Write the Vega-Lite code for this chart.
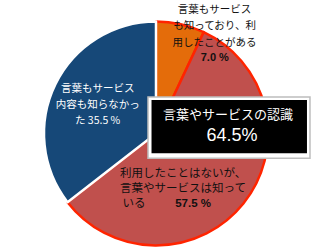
{
  "$schema": "https://vega.github.io/schema/vega-lite/v6.json",
  "width": 318,
  "height": 252,
  "autosize": {"type": "fit", "contains": "padding"},
  "padding": {"left": 0, "top": 12, "right": 6, "bottom": 0},
  "background": "white",
  "config": {"view": {"stroke": null}, "font": "Noto Sans CJK JP"},
  "datasets": {
    "slices": [
      {"cat": "利用したことがある", "order": 1, "value": 7.0, "label": "言葉もサービス\nも知っており、利\n用したことがある", "label3": "", "pct": "7.0 %"},
      {"cat": "知っている", "order": 2, "value": 57.5, "label": "利用したことはないが、\n言葉やサービスは知って", "label3": "いる", "pct": "57.5 %"},
      {"cat": "知らなかった", "order": 3, "value": 35.5, "label": "言葉もサービス\n内容も知らなかっ\nた 35.5 %", "label3": "", "pct": ""}
    ],
    "box": [
      {"role": "outer", "x1": -0.0714, "x2": 1.375, "y1": 0.33, "y2": -0.2232},
      {"role": "inner", "x1": -0.04, "x2": 1.348, "y1": 0.3036, "y2": -0.1786}
    ],
    "boxText": [
      {"role": "title", "text": "言葉やサービスの認識", "x": 0.643, "y": 0.17},
      {"role": "value", "text": "64.5%", "x": 0.679, "y": -0.027}
    ]
  },
  "layer": [
    {
      "data": {"name": "slices"},
      "mark": {"type": "arc", "radius": 112, "strokeJoin": "round"},
      "encoding": {
        "theta": {"field": "value", "type": "quantitative", "stack": true},
        "order": {"field": "order", "type": "quantitative"},
        "color": {"field": "cat", "type": "nominal", "legend": null,
          "scale": {"domain": ["利用したことがある", "知っている", "知らなかった"], "range": ["#E46C0A", "#C0504D", "#164878"]}},
        "stroke": {"condition": {"test": "datum.order === 3", "value": "#ffffff"}, "value": "#FF2400"},
        "strokeWidth": {"condition": {"test": "datum.order === 3", "value": 2.5}, "value": 2.5}
      }
    },
    {
      "data": {"name": "slices"},
      "mark": {"type": "text", "radius": 108, "dx": 35, "dy": -18.5, "fontSize": 10.5, "lineHeight": 16.5, "lineBreak": "\n", "fill": "#111111", "align": "center", "baseline": "middle"},
      "encoding": {
        "theta": {"field": "value", "type": "quantitative", "stack": true},
        "order": {"field": "order", "type": "quantitative"},
        "detail": {"field": "cat", "type": "nominal"},
        "text": {"condition": {"test": "datum.order === 1", "field": "label"}, "value": ""}
      }
    },
    {
      "data": {"name": "slices"},
      "mark": {"type": "text", "radius": 77, "dx": 42, "dy": 0, "fontSize": 11, "fontWeight": "bold", "font": "Liberation Sans", "fill": "#111111", "align": "center", "baseline": "middle"},
      "encoding": {
        "theta": {"field": "value", "type": "quantitative", "stack": true},
        "order": {"field": "order", "type": "quantitative"},
        "detail": {"field": "cat", "type": "nominal"},
        "text": {"condition": {"test": "datum.order === 1", "field": "pct"}, "value": ""}
      }
    },
    {
      "data": {"name": "slices"},
      "mark": {"type": "text", "radius": 65, "dy": -16, "fontSize": 10.5, "lineHeight": 16, "lineBreak": "\n", "fill": "#ffffff", "align": "center", "baseline": "middle"},
      "encoding": {
        "theta": {"field": "value", "type": "quantitative", "stack": true},
        "order": {"field": "order", "type": "quantitative"},
        "detail": {"field": "cat", "type": "nominal"},
        "text": {"condition": {"test": "datum.order === 3", "field": "label"}, "value": ""}
      }
    },
    {
      "data": {"name": "slices"},
      "mark": {"type": "text", "radius": 77, "dx": -33, "dy": -7.5, "fontSize": 11.5, "lineHeight": 14.5, "lineBreak": "\n", "fill": "#111111", "align": "center", "baseline": "middle"},
      "encoding": {
        "theta": {"field": "value", "type": "quantitative", "stack": true},
        "order": {"field": "order", "type": "quantitative"},
        "detail": {"field": "cat", "type": "nominal"},
        "text": {"condition": {"test": "datum.order === 2", "field": "label"}, "value": ""}
      }
    },
    {
      "data": {"name": "slices"},
      "mark": {"type": "text", "radius": 77, "dx": -82, "dy": 22, "fontSize": 11.5, "fill": "#111111", "align": "center", "baseline": "middle"},
      "encoding": {
        "theta": {"field": "value", "type": "quantitative", "stack": true},
        "order": {"field": "order", "type": "quantitative"},
        "detail": {"field": "cat", "type": "nominal"},
        "text": {"condition": {"test": "datum.order === 2", "field": "label3"}, "value": ""}
      }
    },
    {
      "data": {"name": "slices"},
      "mark": {"type": "text", "radius": 77, "dx": -23, "dy": 22, "fontSize": 11.5, "fontWeight": "bold", "font": "Liberation Sans", "fill": "#111111", "align": "center", "baseline": "middle"},
      "encoding": {
        "theta": {"field": "value", "type": "quantitative", "stack": true},
        "order": {"field": "order", "type": "quantitative"},
        "detail": {"field": "cat", "type": "nominal"},
        "text": {"condition": {"test": "datum.order === 2", "field": "pct"}, "value": ""}
      }
    },
    {
      "data": {"name": "box"},
      "transform": [{"filter": "datum.role === 'outer'"}],
      "mark": {"type": "rect", "fill": "#ffffff", "stroke": "#bdbdbd", "strokeWidth": 1.5},
      "encoding": {
        "x": {"field": "x1", "type": "quantitative", "axis": null, "scale": {"domain": [-1.3929, 1.3929], "nice": false, "zero": false}},
        "x2": {"field": "x2"},
        "y": {"field": "y1", "type": "quantitative", "axis": null, "scale": {"domain": [-1.0714, 1.0714], "nice": false, "zero": false}},
        "y2": {"field": "y2"}
      }
    },
    {
      "data": {"name": "box"},
      "transform": [{"filter": "datum.role === 'inner'"}],
      "mark": {"type": "rect", "fill": "#000000"},
      "encoding": {
        "x": {"field": "x1", "type": "quantitative", "axis": null, "scale": {"domain": [-1.3929, 1.3929], "nice": false, "zero": false}},
        "x2": {"field": "x2"},
        "y": {"field": "y1", "type": "quantitative", "axis": null, "scale": {"domain": [-1.0714, 1.0714], "nice": false, "zero": false}},
        "y2": {"field": "y2"}
      }
    },
    {
      "data": {"name": "boxText"},
      "transform": [{"filter": "datum.role === 'title'"}],
      "mark": {"type": "text", "fill": "#ffffff", "fontSize": 13, "align": "center", "baseline": "middle"},
      "encoding": {
        "x": {"field": "x", "type": "quantitative", "axis": null, "scale": {"domain": [-1.3929, 1.3929], "nice": false, "zero": false}},
        "y": {"field": "y", "type": "quantitative", "axis": null, "scale": {"domain": [-1.0714, 1.0714], "nice": false, "zero": false}},
        "text": {"field": "text"}
      }
    },
    {
      "data": {"name": "boxText"},
      "transform": [{"filter": "datum.role === 'value'"}],
      "mark": {"type": "text", "fill": "#ffffff", "fontSize": 18, "font": "Liberation Sans", "align": "center", "baseline": "middle"},
      "encoding": {
        "x": {"field": "x", "type": "quantitative", "axis": null, "scale": {"domain": [-1.3929, 1.3929], "nice": false, "zero": false}},
        "y": {"field": "y", "type": "quantitative", "axis": null, "scale": {"domain": [-1.0714, 1.0714], "nice": false, "zero": false}},
        "text": {"field": "text"}
      }
    }
  ]
}
